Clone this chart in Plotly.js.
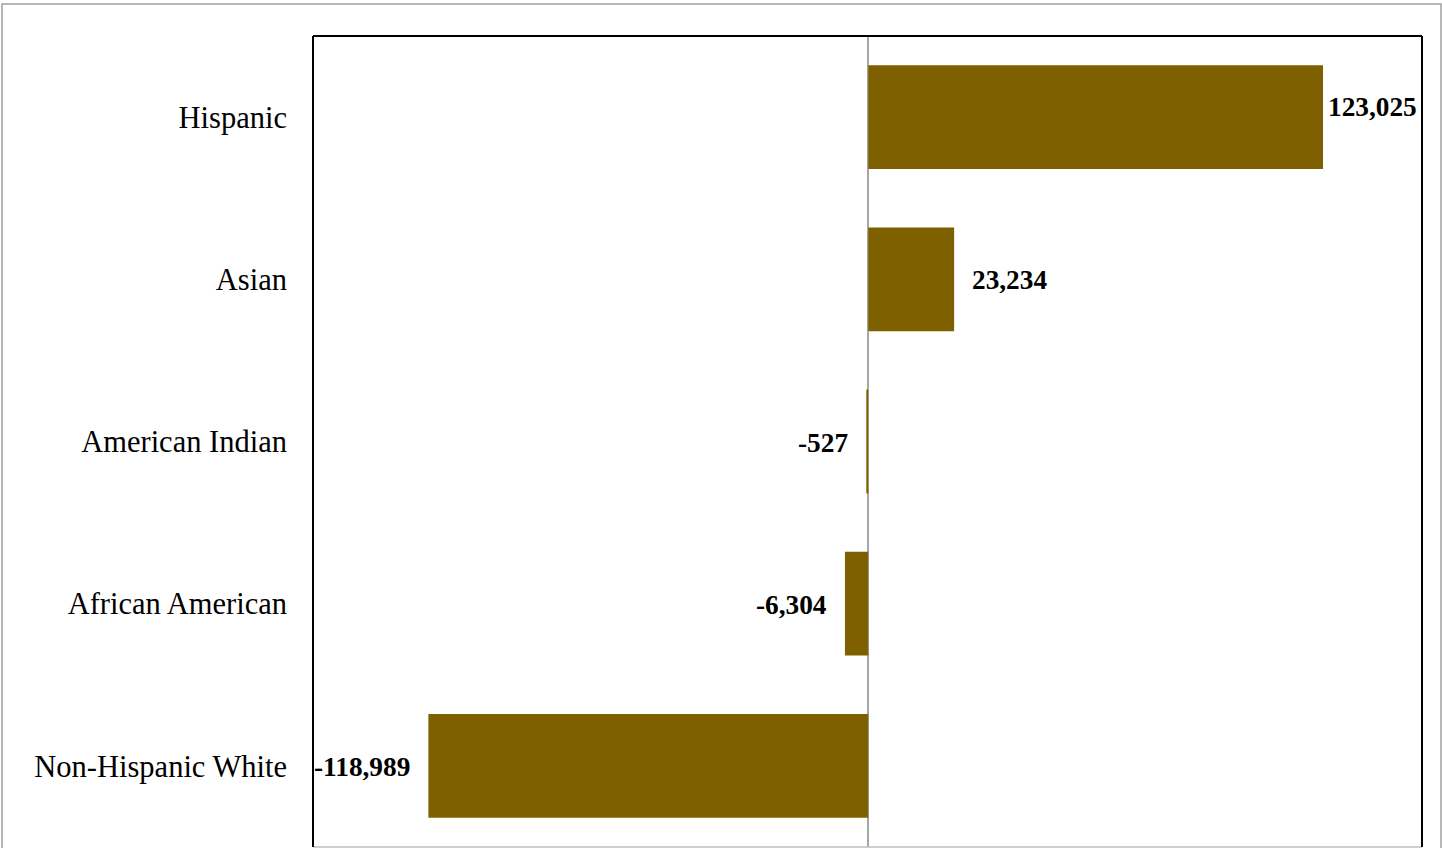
<!DOCTYPE html>
<html>
<head>
<meta charset="utf-8">
<script src="https://cdn.plot.ly/plotly-3.0.1.min.js"></script>
<style>html,body{margin:0;padding:0;background:#fff;}#chart{width:1442px;height:848px;}</style>
</head>
<body>
<div id="chart"></div>
<script>
var categories = ["Non-Hispanic White", "African American", "American Indian", "Asian", "Hispanic"];
var values = [-118989, -6304, -527, 23234, 123025];
var valueLabels = ["-118,989", "-6,304", "-527", "23,234", "123,025"];

var W = 1442, H = 848;
var L = 313, R = 20, T = 36, B = 1;
var pw = W - L - R, ph = H - T - B;
function px(xp){ return (xp - L) / pw; }
function py(yp){ return (H - B - yp) / ph; }

var trace = {
  type: 'bar',
  orientation: 'h',
  y: categories,
  x: values,
  marker: {color: '#7f6000'},
  hoverinfo: 'none'
};

var annotations = values.map(function(v, i){
  var last = (i === values.length - 1);
  var shift = last ? 3 : 16;
  return {
    x: v, y: categories[i], xref: 'x', yref: 'y',
    text: '<b>' + valueLabels[i] + '</b>',
    showarrow: false,
    xanchor: v >= 0 ? 'left' : 'right',
    xshift: v >= 0 ? shift : -shift,
    yshift: last ? 10 : -1,
    font: {family: 'Liberation Serif, serif', size: 27.3, color: '#000'}
  };
});

var layout = {
  width: W, height: H,
  margin: {l: L, r: R, t: T, b: B, pad: 0},
  paper_bgcolor: '#fff', plot_bgcolor: '#fff',
  showlegend: false,
  bargap: 0.36,
  xaxis: {
    range: [-150200, 149800],
    showticklabels: false, ticks: '', showgrid: false,
    zeroline: true, zerolinecolor: '#a6a6a6', zerolinewidth: 1.5,
    showline: false, fixedrange: true
  },
  yaxis: {
    type: 'category',
    categoryorder: 'array', categoryarray: categories,
    showgrid: false, zeroline: false, showline: false, ticks: '',
    ticklabelstandoff: 25,
    tickfont: {family: 'Liberation Serif, serif', size: 30.5, color: '#000'},
    fixedrange: true
  },
  annotations: annotations,
  shapes: [
    {type: 'rect', xref: 'paper', yref: 'paper', x0: px(2), x1: px(1441), y0: py(4), y1: py(860),
     line: {color: '#a0a0a0', width: 1.5}, fillcolor: 'rgba(0,0,0,0)', layer: 'below'},
    {type: 'line', xref: 'paper', yref: 'paper', x0: 0, x1: 1, y0: 0, y1: 0,
     line: {color: '#bfbfbf', width: 1.5}},
    {type: 'line', xref: 'paper', yref: 'paper', x0: 0, x1: 0, y0: 0, y1: 1,
     line: {color: '#000', width: 2}},
    {type: 'line', xref: 'paper', yref: 'paper', x0: 1, x1: 1, y0: 0, y1: 1,
     line: {color: '#000', width: 2}},
    {type: 'line', xref: 'paper', yref: 'paper', x0: 0, x1: 1, y0: 1, y1: 1,
     line: {color: '#000', width: 2}}
  ]
};

Plotly.newPlot('chart', [trace], layout, {displayModeBar: false, staticPlot: true});
</script>
</body>
</html>
